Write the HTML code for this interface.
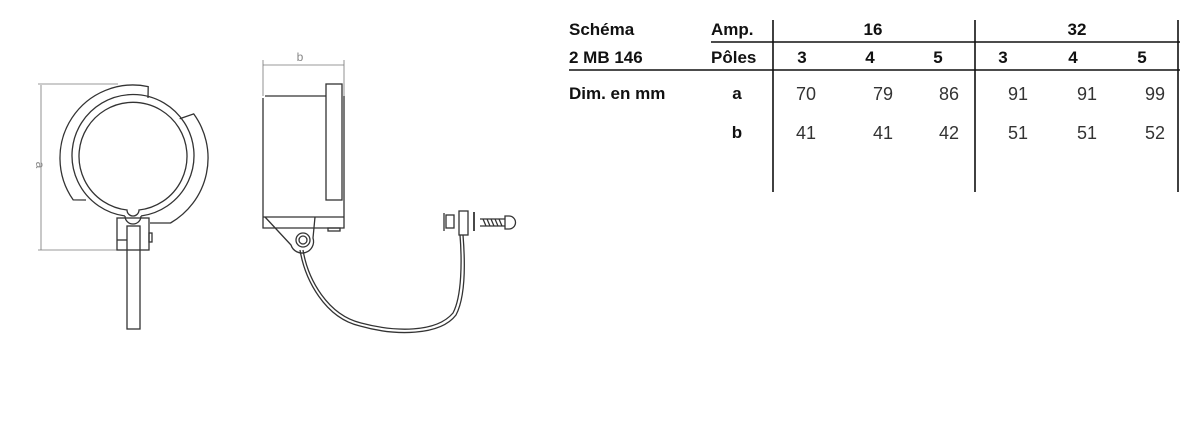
<!DOCTYPE html>
<html><head><meta charset="utf-8"><style>
html,body{margin:0;padding:0;background:#fff;}
body{width:1200px;height:427px;position:relative;overflow:hidden;}
svg{position:absolute;left:0;top:0;}
.b{font-family:"Liberation Sans",sans-serif;font-weight:bold;font-size:17px;fill:#111;}
.n{font-family:"Liberation Sans",sans-serif;font-size:18px;fill:#333;}
</style></head><body>
<svg width="1200" height="427" viewBox="0 0 1200 427">
<g fill="none" stroke="#333" stroke-width="1.3">
<!-- left view dims -->
<line x1="41" y1="85" x2="41" y2="250" stroke="#777" stroke-width="0.8"/>
<line x1="38" y1="84" x2="118" y2="84" stroke="#777" stroke-width="0.8"/>
<line x1="38" y1="250" x2="118" y2="250" stroke="#777" stroke-width="0.8"/>
<!-- outer shell -->
<path d="M148,98 L148.2,86.6 A73,73 0 0 0 73.2,199.9 L86,200"/>
<path d="M179.7,118.8 L193.7,113.9 A75,75 0 0 1 170.5,223 L150,223"/>
<!-- rings -->
<path d="M125,216 A61,61 0 1 1 141,216"/>
<path d="M125,216 A8,8 0 0 0 141,216"/>
<path d="M127,210 A54,54 0 1 1 139,210 A6,6 0 0 1 127,210Z"/>
<!-- stem -->
<rect x="117" y="218" width="32" height="32"/>
<rect x="127" y="226" width="13" height="103"/>
<rect x="149" y="233" width="3" height="9"/>
<line x1="117" y1="240" x2="127" y2="240"/>
<!-- side view -->
<line x1="263" y1="65" x2="344" y2="65" stroke="#777" stroke-width="0.8"/>
<line x1="263" y1="60" x2="263" y2="96" stroke="#777" stroke-width="0.8"/>
<line x1="344" y1="60" x2="344" y2="96" stroke="#777" stroke-width="0.8"/>
<path d="M265,96 L326,96 M263,98 L263,228 L344,228 L344,96"/>
<rect x="326" y="84" width="16" height="116"/>
<line x1="263" y1="217" x2="344" y2="217"/>
<rect x="328" y="228" width="12" height="3"/>
<path d="M265,217 L291,245 A10,10 0 0 0 313,238 L315,217"/>
<circle cx="303" cy="240" r="7"/>
<circle cx="303" cy="240" r="4"/>
<path d="M300,250 C305,280 325,318 360,326 C395,336 440,336 456,315 C466,296 465,260 463,235"/>
<path d="M303,250 C308,280 328,315 361,323 C395,332 436,333 453,313 C462,296 462,260 460,235"/>
<rect x="459" y="211" width="9" height="24"/>
<rect x="446" y="215" width="8" height="13"/>
<line x1="444" y1="213" x2="444" y2="231"/>
<line x1="474" y1="212" x2="474" y2="231" stroke-width="1.8"/>
<path d="M480,219 L505,219 M480,226 L505,226 M483,219 L486,226 M487,219 L490,226 M491,219 L494,226 M495,219 L498,226 M499,219 L502,226"/>
<path d="M505,216 L509,216 A4,4 0 0 1 509,229 L505,229 Z"/>
<!-- table lines -->
<g stroke="#111" stroke-width="1.6">
<line x1="711" y1="42" x2="1180" y2="42"/>
<line x1="569" y1="70" x2="1180" y2="70"/>
<line x1="773" y1="20" x2="773" y2="192"/>
<line x1="975" y1="20" x2="975" y2="192"/>
<line x1="1178" y1="20" x2="1178" y2="192"/>
</g>
</g>
<text x="0" y="0" transform="translate(36,165) rotate(90)" text-anchor="middle" style="font-family:'Liberation Sans',sans-serif;font-size:12px;fill:#888">a</text>
<text x="300" y="61" text-anchor="middle" style="font-family:'Liberation Sans',sans-serif;font-size:12px;fill:#888">b</text>
<g class="b">
<text x="569" y="35">Schéma</text>
<text x="711" y="35">Amp.</text>
<text x="873" y="35" text-anchor="middle">16</text>
<text x="1077" y="35" text-anchor="middle">32</text>
<text x="569" y="63">2 MB 146</text>
<text x="711" y="63">Pôles</text>
<text x="802" y="63" text-anchor="middle">3</text>
<text x="870" y="63" text-anchor="middle">4</text>
<text x="938" y="63" text-anchor="middle">5</text>
<text x="1003" y="63" text-anchor="middle">3</text>
<text x="1073" y="63" text-anchor="middle">4</text>
<text x="1142" y="63" text-anchor="middle">5</text>
<text x="569" y="99">Dim. en mm</text>
<text x="737" y="99" text-anchor="middle">a</text>
<text x="737" y="138" text-anchor="middle">b</text>
</g>
<g class="n" text-anchor="middle">
<text x="806" y="100">70</text><text x="883" y="100">79</text><text x="949" y="100">86</text>
<text x="1018" y="100">91</text><text x="1087" y="100">91</text><text x="1155" y="100">99</text>
<text x="806" y="139">41</text><text x="883" y="139">41</text><text x="949" y="139">42</text>
<text x="1018" y="139">51</text><text x="1087" y="139">51</text><text x="1155" y="139">52</text>
</g>
</svg>
</body></html>
